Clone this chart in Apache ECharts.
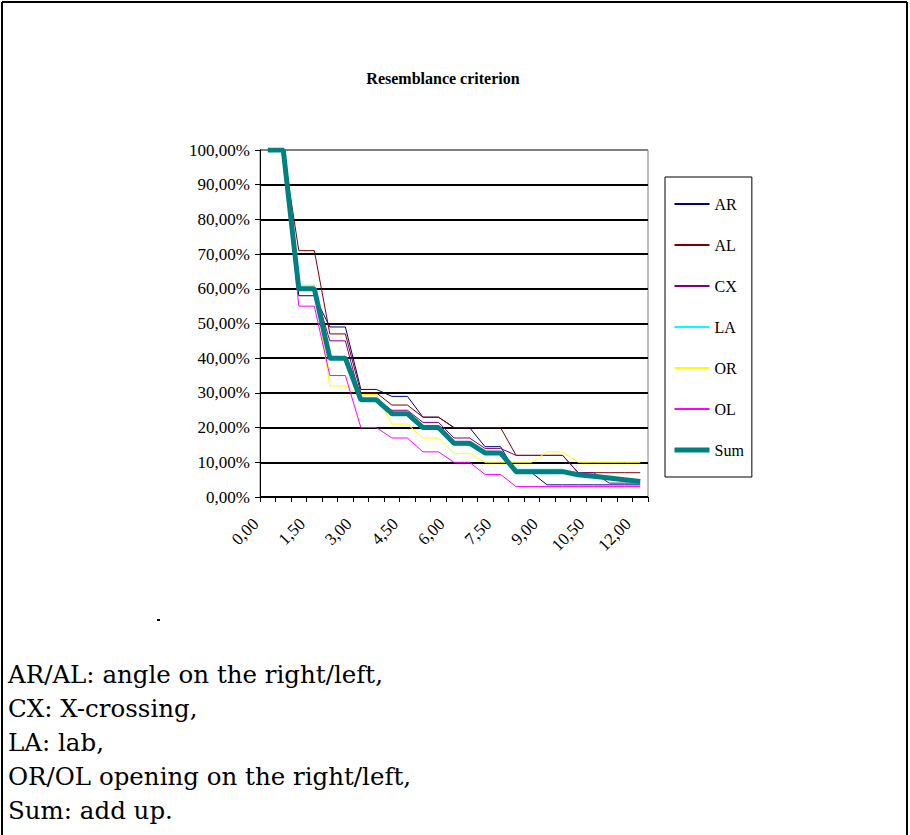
<!DOCTYPE html>
<html>
<head>
<meta charset="utf-8">
<script src="https://cdn.jsdelivr.net/npm/echarts@6/dist/echarts.min.js"></script>
<style>
html,body{margin:0;padding:0;background:#fff;}
#c{width:910px;height:835px;}
</style>
</head>
<body>
<div id="c"></div>
<script>
// Categories (distance), labels shown every 3rd
const categories = ['0,00','0,50','1,00','1,50','2,00','2,50','3,00','3,50','4,00','4,50','5,00','5,50','6,00','6,50','7,00','7,50','8,00','8,50','9,00','9,50','10,00','10,50','11,00','11,50','12,00'];

const AR  = [100,100,58,58,49,49,31,31,29,29,23,23,20,20,14.5,14.5,7,7,3.5,3.5,3.5,3.5,3.5,3.5,3.5];
const AL  = [100,100,71,71,47,47,30,30,26.5,26.5,23,23,20,20,20,20,12,12,12,12,7,7,7,7,7];
const CX  = [100,100,60,60,45,45,28,28,25,25,21.5,21.5,17,17,14,14,12,12,12,12,7,7,4,4,4];
const LA  = [100,100,61,61,40,40,28,28,24,24,20,20,15,15,13,13,8,8,8,8,6,6,5,5,4.5];
const OR  = [100,100,61,61,32,32,29.5,29.5,21,21,17,17,12.6,12.6,10,10,10,10,13,13,10,10,10,10,10];
const OL  = [100,100,55,55,35,35,20,20,17,17,13,13,10,10,6.5,6.5,3,3,3,3,3,3,3,3,3];
const SUM = [100,100,60,60,40,40,28,28,24,24,20,20,15.5,15.5,12.7,12.7,7.3,7.3,7.3,7.3,6.4,6,5.5,5,4.5];

const seriesNames = ['AR','AL','CX','LA','OR','OL','Sum'];

const notes = [
  'AR/AL: angle on the right/left,',
  'CX: X-crossing,',
  'LA: lab,',
  'OR/OL opening on the right/left,',
  'Sum: add up.'
];

const serif = '"Liberation Serif", "Times New Roman", serif';
const chart = echarts.init(document.getElementById('c'), null, {renderer: 'svg'});

function mk(name, data, color, width, z) {
  return {name, type: 'line', data, symbol: 'none', showSymbol: false,
    lineStyle: {color, width}, itemStyle: {color}, z: z, animation: false};
}

const gridColors = ['#000','#000','#000','#000','#000','#000','#000','#000','#000','#000','#808080'];

const graphics = [
  {type: 'line', shape: {x1: 2, y1: 2, x2: 907, y2: 2}, style: {stroke: '#000', lineWidth: 2}},
  {type: 'line', shape: {x1: 2, y1: 2, x2: 2, y2: 835}, style: {stroke: '#000', lineWidth: 2}},
  {type: 'line', shape: {x1: 907, y1: 2, x2: 907, y2: 835}, style: {stroke: '#000', lineWidth: 2}},
  {type: 'rect', shape: {x: 157, y: 619, width: 3, height: 2}, style: {fill: '#000'}},
  {type: 'text', x: 443, y: 78, style: {text: 'Resemblance criterion', font: 'bold 16px ' + serif, fill: '#000', textAlign: 'center', textVerticalAlign: 'middle'}}
];
notes.forEach((t, i) => {
  graphics.push({type: 'text', x: 8, y: 674 + i * 34, style: {text: t, font: '24.5px "DejaVu Serif", serif', fill: '#000', textAlign: 'left', textVerticalAlign: 'middle'}});
});

chart.setOption({
  animation: false,
  backgroundColor: '#fff',
  grid: {left: 260, top: 150, width: 388, height: 347, show: true, borderColor: '#808080', borderWidth: 1, containLabel: false},
  legend: {
    orient: 'vertical', left: 665, top: 177,
    data: seriesNames.map(n => n === 'Sum' ? {name: n, lineStyle: {width: 5}} : {name: n}),
    itemWidth: 35, itemHeight: 14, itemGap: 25,
    padding: [19, 8, 19, 7],
    borderColor: '#000', borderWidth: 1, backgroundColor: '#fff',
    itemStyle: {opacity: 0, borderWidth: 0},
    textStyle: {fontFamily: serif, fontSize: 16, color: '#000'},
    selectedMode: false
  },
  xAxis: {
    type: 'category', data: categories, boundaryGap: true,
    axisLine: {lineStyle: {color: '#000', width: 1}},
    axisTick: {show: true, interval: 0, length: 5, lineStyle: {color: '#000'}},
    axisLabel: {interval: 2, rotate: 45, fontFamily: serif, fontSize: 17, color: '#000', margin: 12, padding: [0, 17, 0, 0]},
    splitLine: {show: false}
  },
  yAxis: {
    type: 'value', min: 0, max: 100, interval: 10,
    axisLine: {show: true, lineStyle: {color: '#000', width: 1}},
    axisTick: {show: true, length: 5, lineStyle: {color: '#000'}},
    axisLabel: {fontFamily: serif, fontSize: 17, color: '#000', margin: 10,
      formatter: v => v.toFixed(2).replace('.', ',') + '%'},
    splitLine: {show: true, lineStyle: {color: gridColors, width: 2}}
  },
  series: [
    mk('AR', AR, '#000080', 1, 2),
    mk('AL', AL, '#800000', 1, 2),
    mk('CX', CX, '#800080', 1, 2),
    mk('LA', LA, '#00FFFF', 1, 2),
    mk('OR', OR, '#FFFF00', 1, 2),
    mk('OL', OL, '#FF00FF', 1, 2),
    mk('Sum', SUM, '#008080', 5, 3)
  ],
  graphic: graphics
});
</script>
</body>
</html>
